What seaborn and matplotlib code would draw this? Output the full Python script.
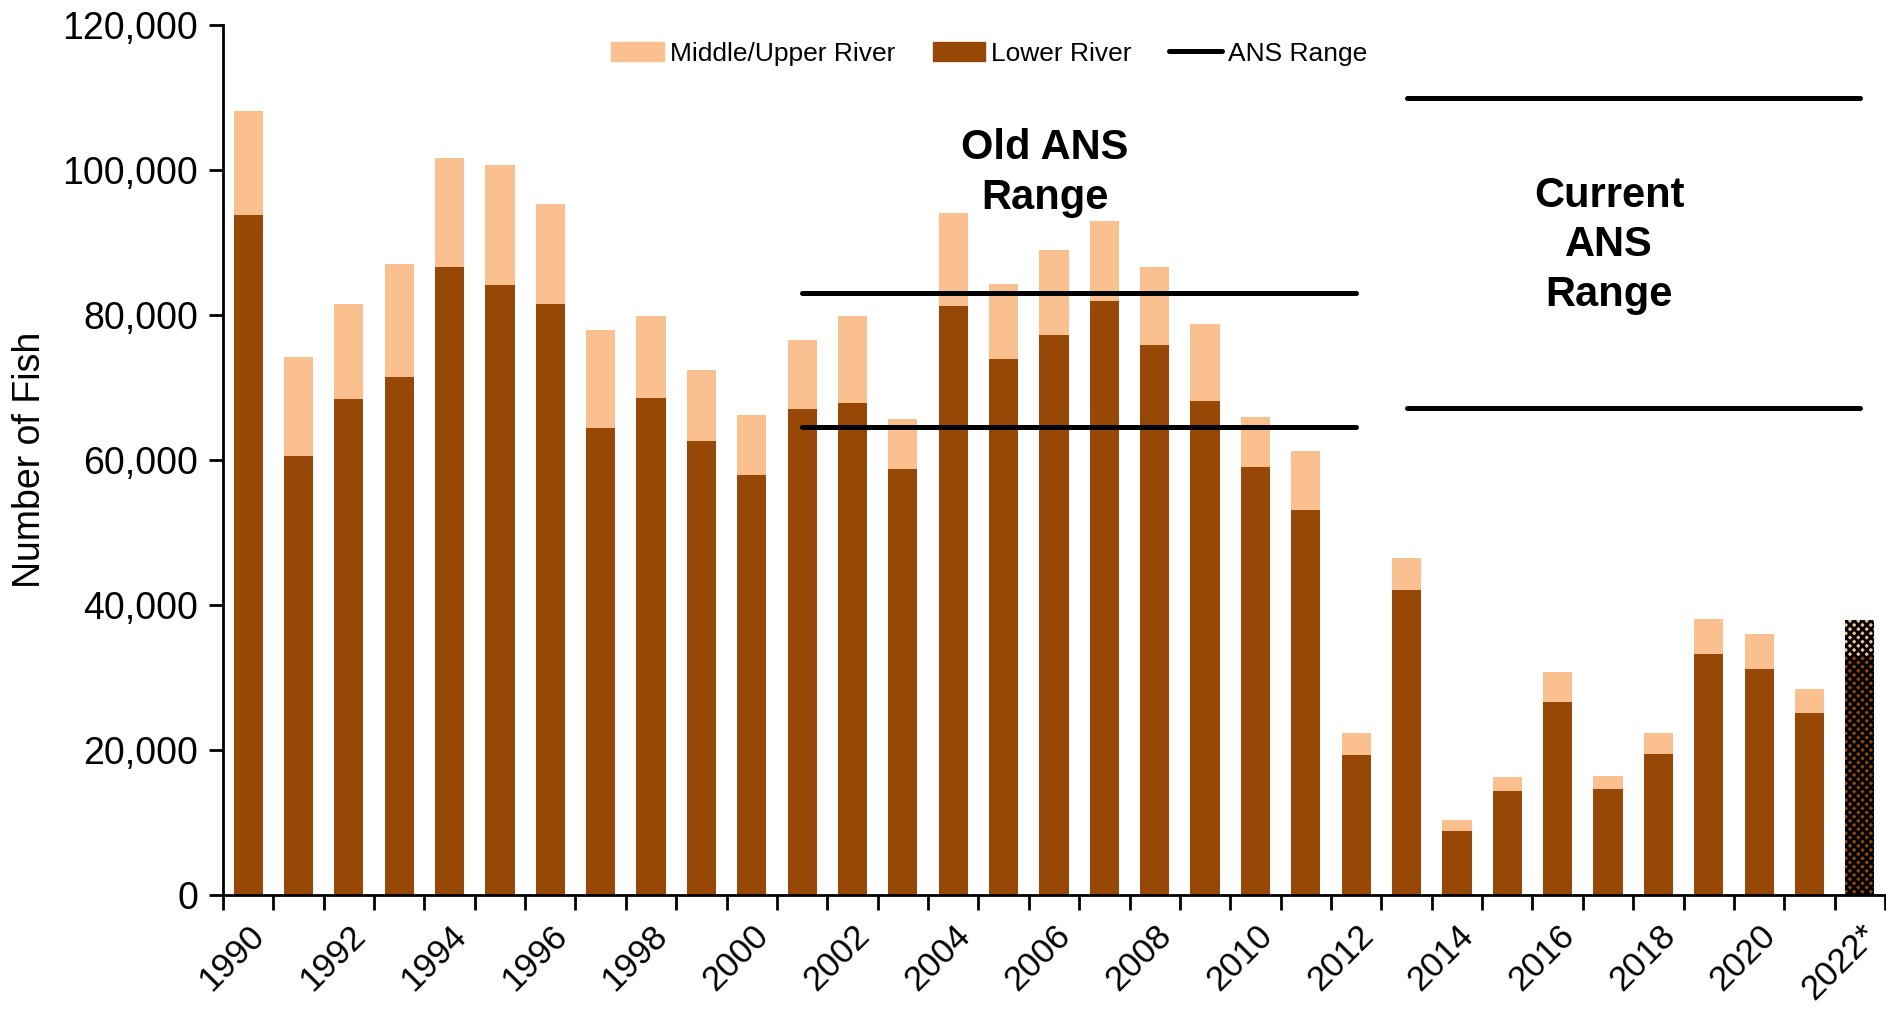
import matplotlib
matplotlib.use("Agg")
import matplotlib.pyplot as plt
import matplotlib.transforms as mtransforms
import seaborn as sns
import pandas as pd
from matplotlib.patches import Patch
from matplotlib.lines import Line2D
from matplotlib.ticker import FuncFormatter, FixedLocator

# data
years = [str(y) for y in range(1990, 2022)] + ["2022*"]
lower = [93800, 60600, 68400, 71400, 86600, 84100, 81500, 64400, 68500, 62600,
         57900, 67100, 67900, 58800, 81300, 74000, 77200, 82000, 75800, 68200,
         59100, 53100, 19300, 42000, 8800, 14300, 26600, 14600, 19400, 33200,
         31200, 25100, 33000]
total = [108200, 74200, 81500, 87100, 101600, 100700, 95300, 78000, 79800, 72400,
         66200, 76500, 79800, 65700, 94100, 84300, 89000, 92900, 86600, 78700,
         65900, 61200, 22400, 46500, 10300, 16300, 30700, 16400, 22400, 38000,
         36000, 28400, 37900]
old_ans = {"start": "2001", "end": "2012", "low": 64500, "high": 83000}
cur_ans = {"start": "2013", "end": "2022*", "low": 67200, "high": 110000}

light = "#FAC090"
dark = "#974706"

df = pd.DataFrame({"year": years, "lower": lower, "total": total})

sns.set_theme(style="white")
plt.rcParams["font.family"] = ["Liberation Sans", "DejaVu Sans"]
plt.rcParams["text.color"] = "black"
plt.rcParams["axes.labelcolor"] = "black"
plt.rcParams["xtick.color"] = "black"
plt.rcParams["ytick.color"] = "black"
plt.rcParams["hatch.linewidth"] = 2.0

fig = plt.figure(figsize=(18.86, 10.09), dpi=100)
ax = fig.add_axes([0.1182, 0.113, 0.8813, 0.8622])

sns.barplot(data=df, x="year", y="total", color=light, saturation=1, width=0.58,
            linewidth=0, ax=ax)
sns.barplot(data=df, x="year", y="lower", color=dark, saturation=1, width=0.58,
            linewidth=0, ax=ax)

# checkered (preliminary) last year
n = len(years)
for patch in [ax.patches[n - 1], ax.patches[2 * n - 1]]:
    patch.set_hatch("xxxx")
    patch.set_edgecolor("black")
    patch.set_linewidth(0)

for rng in (old_ans, cur_ans):
    x0, x1 = years.index(rng["start"]), years.index(rng["end"])
    for v in (rng["low"], rng["high"]):
        ax.plot([x0, x1], [v, v], color="black", lw=3.6, solid_capstyle="round")

ax.text(15.82, 99600, "Old ANS\nRange", ha="center", va="center",
        fontsize=30, fontweight="bold", linespacing=1.3)
ax.text(27.02, 89600, "Current\nANS\nRange", ha="center", va="center",
        fontsize=30, fontweight="bold", linespacing=1.3)

ax.set_xlim(-0.5, n - 0.5)
ax.set_ylim(0, 120000)
ax.set_yticks(range(0, 120001, 20000))
ax.yaxis.set_major_formatter(FuncFormatter(lambda v, p: f"{int(v):,}"))
ax.set_ylabel("Number of Fish", fontsize=27, labelpad=10)
ax.set_xlabel("")

label_pos = list(range(0, n, 2))
ax.xaxis.set_major_locator(FixedLocator(label_pos))
ax.set_xticklabels([years[i] for i in label_pos], rotation=45, ha="right",
                   rotation_mode="anchor", fontsize=25)
shift = mtransforms.ScaledTranslation(-7 / 100, 0, fig.dpi_scale_trans)
for lab in ax.get_xticklabels():
    lab.set_transform(lab.get_transform() + shift)
ax.xaxis.set_minor_locator(FixedLocator([i - 0.5 for i in range(n + 1)]))
ax.tick_params(axis="x", which="major", length=0, pad=17)
ax.tick_params(axis="x", which="minor", length=11, width=2, color="black", bottom=True)
ax.tick_params(axis="y", labelsize=27, length=10, width=2, color="black", left=True, pad=8)

for s in ["top", "right"]:
    ax.spines[s].set_visible(False)
for s in ["left", "bottom"]:
    ax.spines[s].set_color("black")
    ax.spines[s].set_linewidth(2)

handles = [Patch(color=light, label="Middle/Upper River"),
           Patch(color=dark, label="Lower River"),
           Line2D([0], [0], color="black", lw=3.6, solid_capstyle="round", label="ANS Range")]
ax.legend(handles=handles, loc="center", bbox_to_anchor=(0.461, 0.967), ncol=3,
          frameon=False, fontsize=19, handlelength=2.0, handletextpad=0.23,
          columnspacing=1.4)

fig.savefig("out.png", dpi=100, facecolor="white")
